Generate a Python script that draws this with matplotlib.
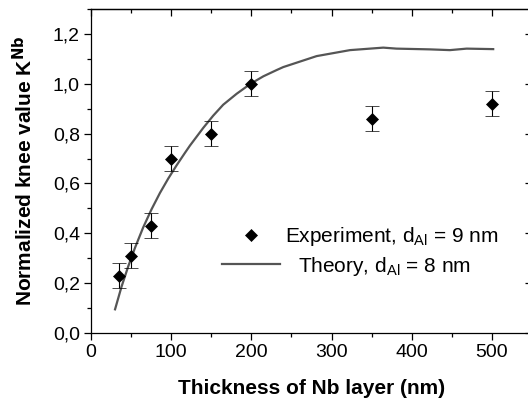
import matplotlib
matplotlib.use("Agg")
import matplotlib.pyplot as plt
from matplotlib.ticker import MultipleLocator, FuncFormatter
from matplotlib.lines import Line2D

plt.rcParams['font.family'] = ['Liberation Sans', 'DejaVu Sans']
plt.rcParams['mathtext.default'] = 'regular'

# Experimental data
exp_x = [35, 50, 75, 100, 150, 200, 350, 500]
exp_y = [0.23, 0.31, 0.43, 0.70, 0.80, 1.00, 0.86, 0.92]
exp_err = [0.05, 0.05, 0.05, 0.05, 0.05, 0.05, 0.05, 0.05]

# Theory curve
th_x = [30, 38, 46.5, 55, 65, 75.6, 86, 96.4, 106.8, 117, 123.4, 140, 152.4, 164.9,
        181.7, 199, 215, 231.5, 239.8, 281.4, 323, 364.5, 381, 422.7, 447.6, 468.5, 501.6]
th_y = [0.095, 0.185, 0.268, 0.343, 0.423, 0.497, 0.562, 0.62, 0.673, 0.722, 0.752, 0.823,
        0.872, 0.916, 0.96, 1.0, 1.03, 1.055, 1.067, 1.111, 1.135, 1.145, 1.141, 1.138,
        1.135, 1.141, 1.139]

fig = plt.figure(figsize=(5.28, 4.01), dpi=100)
W, H = 528, 401
ax = fig.add_axes([91 / W, (401 - 333) / H, (532 - 91) / W, (333 - 9) / H])

ax.plot(th_x, th_y, color='#555555', lw=1.6, zorder=2, solid_joinstyle='round')
ax.errorbar(exp_x, exp_y, yerr=exp_err, fmt='D', color='black', ms=6.2,
            mew=0.5, ecolor='black', elinewidth=0.8, capsize=4.7, capthick=0.8, zorder=3)

ax.set_xlim(0, 550)
ax.set_ylim(0, 1.3)
ax.xaxis.set_major_locator(MultipleLocator(100))
ax.xaxis.set_minor_locator(MultipleLocator(50))
ax.yaxis.set_major_locator(MultipleLocator(0.2))
ax.yaxis.set_minor_locator(MultipleLocator(0.1))
ax.yaxis.set_major_formatter(FuncFormatter(lambda v, p: f"{v:.1f}".replace('.', ',')))

ax.tick_params(axis='both', which='both', direction='out', labelsize=14, width=0.9, pad=3)
ax.tick_params(which='major', length=5)
ax.tick_params(which='minor', length=3)

# top/right ticks inward, no labels
axt = ax.secondary_xaxis('top')
axt.xaxis.set_major_locator(MultipleLocator(100))
axt.xaxis.set_minor_locator(MultipleLocator(50))
axt.tick_params(which='both', direction='in', labeltop=False, width=0.9)
axt.tick_params(which='major', length=5)
axt.tick_params(which='minor', length=3)
axr = ax.secondary_yaxis('right')
axr.yaxis.set_major_locator(MultipleLocator(0.2))
axr.yaxis.set_minor_locator(MultipleLocator(0.1))
axr.tick_params(which='both', direction='in', labelright=False, width=0.9)
axr.tick_params(which='major', length=5)
axr.tick_params(which='minor', length=3)
for s in ax.spines.values():
    s.set_linewidth(0.9)
for a in (axt, axr):
    for s in a.spines.values():
        s.set_linewidth(0.9)

ax.set_xlabel('Thickness of Nb layer (nm)', fontsize=15, fontweight='bold', labelpad=13)
ax.set_ylabel('Normalized knee value K$^{\\mathbf{Nb}}$', fontsize=15, fontweight='bold', labelpad=12)

h1 = Line2D([], [], marker='D', color='black', ls='none', ms=6.2, mew=0.5)
h2 = Line2D([], [], color='#555555', lw=1.6)
leg1 = fig.legend([h1], ['Experiment, d$_{Al}$ = 9 nm'], loc='center left',
                  bbox_to_anchor=(234 / W, (401 - 237) / H), frameon=False,
                  borderpad=0, borderaxespad=0, handlelength=1.63, handletextpad=0.82,
                  fontsize=15)
leg2 = fig.legend([h2], ['Theory, d$_{Al}$ = 8 nm'], loc='center left',
                  bbox_to_anchor=(222 / W, (401 - 266) / H), frameon=False,
                  borderpad=0, borderaxespad=0, handlelength=2.8, handletextpad=0.87,
                  fontsize=15)

fig.savefig('out.png', dpi=100)
